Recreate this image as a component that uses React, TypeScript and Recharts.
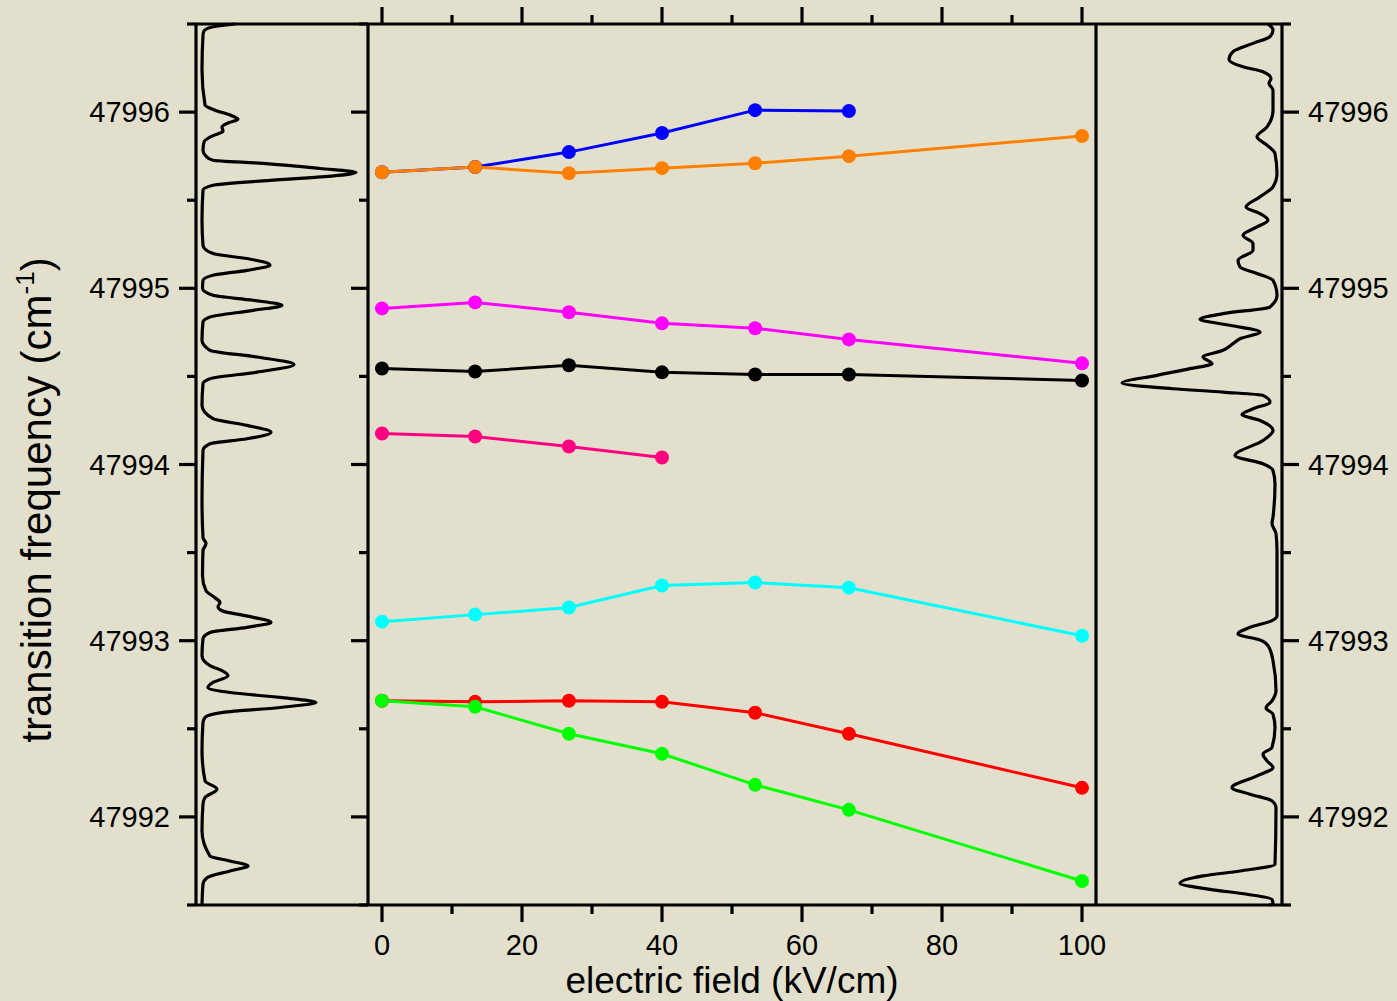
import React from 'react';
import { LineChart, Line, XAxis, YAxis } from 'recharts';

const W = 1397;
const H = 1001;
const FONT = '"Liberation Sans", Arial, Helvetica, sans-serif';
const INK = '#000000';
const BG = '#e2e0cc';

// electric field (kV/cm) at which each Stark map point was taken
const fields = [0, 13.3, 26.7, 40, 53.3, 66.7, 100];

// transition frequency (cm-1) of each tracked component, null = not resolved
const blueLine = [47995.659, 47995.688, 47995.773, 47995.881, 47996.011, 47996.006, null];
const orangeLine = [47995.659, 47995.688, 47995.653, 47995.682, 47995.71, 47995.75, 47995.864];
const magentaLine = [47994.886, 47994.92, 47994.864, 47994.801, 47994.773, 47994.71, 47994.574];
const blackLine = [47994.545, 47994.528, 47994.563, 47994.523, 47994.511, 47994.511, 47994.477];
const pinkLine = [47994.176, 47994.159, 47994.102, 47994.04, null, null, null];
const cyanLine = [47993.108, 47993.148, 47993.188, 47993.313, 47993.33, 47993.301, 47993.028];
const redLine = [47992.659, 47992.653, 47992.659, 47992.653, 47992.591, 47992.472, 47992.165];
const greenLine = [47992.659, 47992.625, 47992.472, 47992.358, 47992.182, 47992.04, 47991.636];

const fieldTicks = [0, 10, 20, 30, 40, 50, 60, 70, 80, 90, 100];
const freqTicks = [
  47991.5, 47992, 47992.5, 47993, 47993.5, 47994, 47994.5, 47995, 47995.5, 47996, 47996.5,
];

// field-free spectrum, [frequency (cm-1), signal (arb. units)]
const leftTrace: [number, number][] = [
  [47996.5, 33], [47996.483, 10], [47996.46, 2], [47996.438, 1], [47996.239, 0],
  [47996.04, 3], [47996.011, 13], [47995.983, 28], [47995.96, 36], [47995.938, 26],
  [47995.915, 20], [47995.892, 21], [47995.864, 10], [47995.83, 2], [47995.784, 1],
  [47995.75, 4], [47995.727, 11], [47995.709, 61], [47995.68, 118], [47995.657, 154],
  [47995.632, 118], [47995.61, 61], [47995.585, 11], [47995.557, 1], [47995.386, 0],
  [47995.244, 1], [47995.197, 11], [47995.169, 45], [47995.131, 68], [47995.102, 45],
  [47995.074, 11], [47995.045, 1], [47995.0, 0.5], [47994.96, 11], [47994.932, 51],
  [47994.903, 80], [47994.875, 51], [47994.837, 8], [47994.809, 1], [47994.705, 0],
  [47994.648, 8], [47994.61, 55], [47994.567, 92], [47994.524, 55], [47994.487, 8],
  [47994.459, 1], [47994.335, 0], [47994.26, 11], [47994.222, 45], [47994.183, 69],
  [47994.146, 45], [47994.118, 8], [47994.08, 1], [47993.795, 0], [47993.585, 1],
  [47993.551, 4], [47993.511, 1], [47993.369, 0.5], [47993.284, 4], [47993.244, 13],
  [47993.216, 18], [47993.193, 16], [47993.17, 20], [47993.142, 43], [47993.104, 69],
  [47993.076, 45], [47993.047, 8], [47993.011, 1], [47992.915, 0], [47992.858, 8],
  [47992.83, 20], [47992.801, 26], [47992.763, 11], [47992.735, 6], [47992.706, 28],
  [47992.678, 78], [47992.649, 114], [47992.621, 78], [47992.593, 21], [47992.564, 3],
  [47992.536, 1], [47992.375, 0], [47992.205, 3], [47992.157, 15], [47992.11, 3],
  [47992.074, 1], [47991.92, 0], [47991.778, 8], [47991.75, 28], [47991.722, 46],
  [47991.693, 28], [47991.655, 5], [47991.618, 1], [47991.5, 0],
];

// depletion spectrum at 100 kV/cm, [frequency (cm-1), signal (arb. units)]
const rightTrace: [number, number][] = [
  [47996.5, -9], [47996.466, -4], [47996.428, -7], [47996.39, -24], [47996.343, -44],
  [47996.299, -48], [47996.257, -34], [47996.229, -14], [47996.191, -6], [47996.163, -8],
  [47996.125, -4], [47996.011, -4], [47995.916, -10], [47995.86, -20], [47995.813, -10],
  [47995.765, -2], [47995.652, 0], [47995.576, -4], [47995.519, -17], [47995.462, -31],
  [47995.424, -17], [47995.386, -9], [47995.348, -20], [47995.301, -34], [47995.254, -24],
  [47995.216, -24], [47995.159, -39], [47995.121, -37], [47995.084, -20], [47995.045, -4],
  [47994.96, 0], [47994.894, -7], [47994.856, -54], [47994.824, -77], [47994.79, -47],
  [47994.752, -17], [47994.714, -37], [47994.686, -44], [47994.648, -54], [47994.61, -74],
  [47994.572, -65], [47994.544, -87], [47994.506, -120], [47994.462, -155], [47994.43, -104],
  [47994.411, -54], [47994.392, -14], [47994.354, -7], [47994.316, -24], [47994.284, -35],
  [47994.25, -17], [47994.193, -4], [47994.136, -14], [47994.051, -42], [47994.004, -14],
  [47993.966, -4], [47993.89, -2], [47993.701, -4], [47993.665, -5], [47993.608, -1],
  [47993.511, 0], [47993.142, 0], [47993.114, -5], [47993.076, -27], [47993.038, -39],
  [47993.004, -17], [47992.972, -9], [47992.886, -4], [47992.716, -1], [47992.659, -5],
  [47992.618, -11], [47992.583, -4], [47992.507, -2], [47992.394, -5], [47992.356, -14],
  [47992.318, -10], [47992.28, -4], [47992.233, -20], [47992.166, -45], [47992.129, -27],
  [47992.091, -5], [47992.053, -1], [47991.731, -2], [47991.693, -37], [47991.665, -74],
  [47991.623, -97], [47991.589, -67], [47991.561, -30], [47991.532, -5], [47991.504, -4],
  [47991.5, -8],
];

const seriesList = [
  { key: 'blue', color: '#0000ff', values: blueLine },
  { key: 'orange', color: '#ff8000', values: orangeLine },
  { key: 'magenta', color: '#ff00ff', values: magentaLine },
  { key: 'black', color: '#000000', values: blackLine },
  { key: 'pink', color: '#ff0080', values: pinkLine },
  { key: 'cyan', color: '#00ffff', values: cyanLine },
  { key: 'red', color: '#ff0000', values: redLine },
  { key: 'green', color: '#00ff00', values: greenLine },
];

const starkRows = fields.map((field, i) => {
  const row: Record<string, number | null> = { field };
  seriesList.forEach((s) => {
    row[s.key] = s.values[i];
  });
  return row;
});

const leftRows = leftTrace.map(([f, s]) => ({ f, s }));
const rightRows = rightTrace.map(([f, s]) => ({ f, s }));

const freqDomain: [number, number] = [47991.5, 47996.5];
const axisStyle = { stroke: INK, strokeWidth: 3.2 };

// tick renderers: tickSize/tickMargin are 0, so (x, y) sits on the axis line
const fieldTick = (dir: 1 | -1, labelled: boolean) => (props: any) => {
  const { x, y, payload } = props;
  const major = payload.value % 20 === 0;
  const len = major ? 17 : 9;
  return (
    <g>
      <line x1={x} x2={x} y1={y} y2={y + dir * len} stroke={INK} strokeWidth={3.2} />
      {labelled && major && (
        <text x={x} y={y + 50} textAnchor="middle" fontSize={29} fontFamily={FONT} fill={INK}>
          {payload.value}
        </text>
      )}
    </g>
  );
};

const freqTick = (dir: 1 | -1, labelled: boolean) => (props: any) => {
  const { x, y, payload } = props;
  const major = Number.isInteger(payload.value);
  const len = major ? 17 : 9;
  return (
    <g>
      <line x1={x} x2={x + dir * len} y1={y} y2={y} stroke={INK} strokeWidth={3.2} />
      {labelled && major && (
        <text
          x={x + dir * 26}
          y={y + 10}
          textAnchor={dir < 0 ? 'end' : 'start'}
          fontSize={29}
          fontFamily={FONT}
          fill={INK}
        >
          {payload.value}
        </text>
      )}
    </g>
  );
};

const fieldTitle = (props: any) => {
  const vb = props.viewBox || { x: 368, width: 728 };
  return (
    <text x={vb.x + vb.width / 2} y={993} textAnchor="middle" fontSize={37} fontFamily={FONT} fill={INK}>
      electric field (kV/cm)
    </text>
  );
};

const freqTitle = () => (
  <text
    x={51}
    y={500}
    transform="rotate(-90 51 500)"
    textAnchor="middle"
    fontSize={42}
    fontFamily={FONT}
    fill={INK}
  >
    <tspan>transition frequency (cm</tspan>
    <tspan fontSize={26} dy={-17}>-1</tspan>
    <tspan dy={17}>)</tspan>
  </text>
);

const layer: React.CSSProperties = { position: 'absolute', left: 0, top: 0 };

function SidePanel({
  rows,
  domain,
  margin,
  side,
}: {
  rows: { f: number; s: number }[];
  domain: [number, number];
  margin: { top: number; bottom: number; left: number; right: number };
  side: 'left' | 'right';
}) {
  return (
    <LineChart layout="vertical" width={W} height={H} data={rows} margin={margin}>
      <XAxis
        xAxisId="bottom"
        type="number"
        orientation="bottom"
        domain={domain}
        height={20}
        tick={false}
        tickLine={false}
        axisLine={axisStyle}
      />
      <XAxis
        xAxisId="top"
        type="number"
        orientation="top"
        domain={domain}
        height={20}
        tick={false}
        tickLine={false}
        axisLine={axisStyle}
      />
      {/* vertical layout runs the category axis top-down, so flip it to put high frequency on top */}
      <YAxis
        yAxisId="f"
        type="number"
        dataKey="f"
        orientation={side}
        domain={freqDomain}
        reversed
        ticks={freqTicks}
        interval={0}
        width={20}
        tickSize={0}
        tickMargin={0}
        tickLine={false}
        tick={freqTick(side === 'left' ? -1 : 1, true)}
        axisLine={axisStyle}
        label={side === 'left' ? freqTitle : undefined}
      />
      <Line
        xAxisId="bottom"
        yAxisId="f"
        dataKey="s"
        type="monotone"
        stroke={INK}
        strokeWidth={3.2}
        strokeLinejoin="round"
        dot={false}
        activeDot={false}
        isAnimationActive={false}
      />
    </LineChart>
  );
}

export default function App() {
  return (
    <div style={{ ...layer, width: W, height: H, background: BG, overflow: 'hidden' }}>
      <div style={layer}>
        <SidePanel
          rows={leftRows}
          domain={[-6, 166]}
          margin={{ top: 4, bottom: 76, left: 176, right: 1029 }}
          side="left"
        />
      </div>
      <div style={layer}>
        <SidePanel
          rows={rightRows}
          domain={[-181, 5]}
          margin={{ top: 4, bottom: 76, left: 1096, right: 95 }}
          side="right"
        />
      </div>
      <div style={layer}>
        <LineChart width={W} height={H} data={starkRows} margin={{ top: 4, bottom: 76, left: 348, right: 281 }}>
          <XAxis
            xAxisId="bottom"
            type="number"
            dataKey="field"
            orientation="bottom"
            domain={[-2, 102]}
            ticks={fieldTicks}
            interval={0}
            height={20}
            tickSize={0}
            tickMargin={0}
            tickLine={false}
            tick={fieldTick(1, true)}
            axisLine={axisStyle}
            label={fieldTitle}
          />
          <XAxis
            xAxisId="top"
            type="number"
            dataKey="field"
            orientation="top"
            domain={[-2, 102]}
            ticks={fieldTicks}
            interval={0}
            height={20}
            tickSize={0}
            tickMargin={0}
            tickLine={false}
            tick={fieldTick(-1, false)}
            axisLine={axisStyle}
          />
          <YAxis
            yAxisId="left"
            type="number"
            orientation="left"
            domain={freqDomain}
            ticks={freqTicks}
            interval={0}
            width={20}
            tickSize={0}
            tickMargin={0}
            tickLine={false}
            tick={freqTick(-1, false)}
            axisLine={axisStyle}
          />
          <YAxis
            yAxisId="right"
            type="number"
            orientation="right"
            domain={freqDomain}
            ticks={freqTicks}
            interval={0}
            width={20}
            tickSize={0}
            tickMargin={0}
            tickLine={false}
            tick={freqTick(1, false)}
            axisLine={axisStyle}
          />
          {seriesList.map((s) => (
            <Line
              key={s.key}
              xAxisId="bottom"
              yAxisId="left"
              dataKey={s.key}
              type="linear"
              stroke={s.color}
              strokeWidth={3}
              dot={{ r: 7, fill: s.color, stroke: s.color, strokeWidth: 0 }}
              activeDot={false}
              connectNulls={false}
              isAnimationActive={false}
            />
          ))}
        </LineChart>
      </div>
    </div>
  );
}
